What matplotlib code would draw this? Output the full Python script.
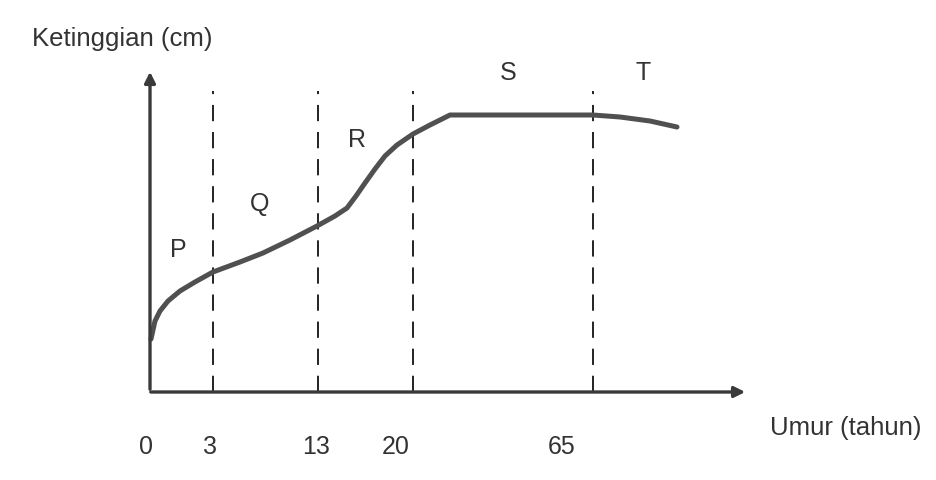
"""
Kurva pertumbuhan tinggi badan manusia (diagram skematik)
"""

import matplotlib
matplotlib.use("Agg")
import matplotlib.pyplot as plt

plt.rcParams["font.family"] = ["Liberation Sans", "DejaVu Sans"]

# posisi skematik sepanjang sumbu (satuan gambar, bukan umur sebenarnya)
curve_x = [1, 5, 10, 18, 30, 45, 63, 90, 113, 140, 167, 185, 197, 206, 215,
           225, 235, 247, 263, 280, 300, 370, 443, 470, 500, 527]
curve_y = [53, 71, 81, 91, 101, 110, 120, 130, 139, 152, 166, 176, 184, 196,
           209, 223, 236, 247, 258, 267, 277, 277, 277, 275, 271, 265]

stage_x = [63, 168, 263, 443]          # batas tahap P|Q|R|S|T
stage_names = ["P", "Q", "R", "S", "T"]
stage_label_x = [28, 110, 207, 358, 493]
stage_label_y = [143, 189, 253, 320, 320]

age_labels = ["0", "3", "13", "20", "65"]
age_label_x = [-4, 60, 166, 246, 412]

fig = plt.figure(figsize=(9.36, 4.81), dpi=100)
ax = fig.add_axes([0, 0, 1, 1])
ax.set_xlim(-150, 786)
ax.set_ylim(-88, 393)
ax.axis("off")

# garis putus-putus batas tahap
for x in stage_x:
    ax.plot([x, x], [0, 301], color="#111111", lw=1.3, ls=(0, (9, 6)))

# sumbu
ax.annotate("", xy=(0, 323), xytext=(0, 0),
            arrowprops=dict(arrowstyle="-|>", lw=2.4, color="#3a3a3a", mutation_scale=16))
ax.annotate("", xy=(598, 0), xytext=(-2, 0),
            arrowprops=dict(arrowstyle="-|>", lw=2.4, color="#3a3a3a", mutation_scale=16))

# kurva pertumbuhan
ax.plot(curve_x, curve_y, color="#505050", lw=3.6, solid_capstyle="round",
        solid_joinstyle="round")

for name, x, y in zip(stage_names, stage_label_x, stage_label_y):
    ax.text(x, y, name, fontsize=18, color="#333333", ha="center", va="center")

for lab, x in zip(age_labels, age_label_x):
    ax.text(x, -54, lab, fontsize=18, color="#333333", ha="center", va="center")

ax.text(-118, 354, "Ketinggian (cm)", fontsize=18.5, color="#333333", ha="left", va="center")
ax.text(620, -35, "Umur (tahun)", fontsize=18.5, color="#333333", ha="left", va="center")

fig.savefig("out.png", dpi=100)
